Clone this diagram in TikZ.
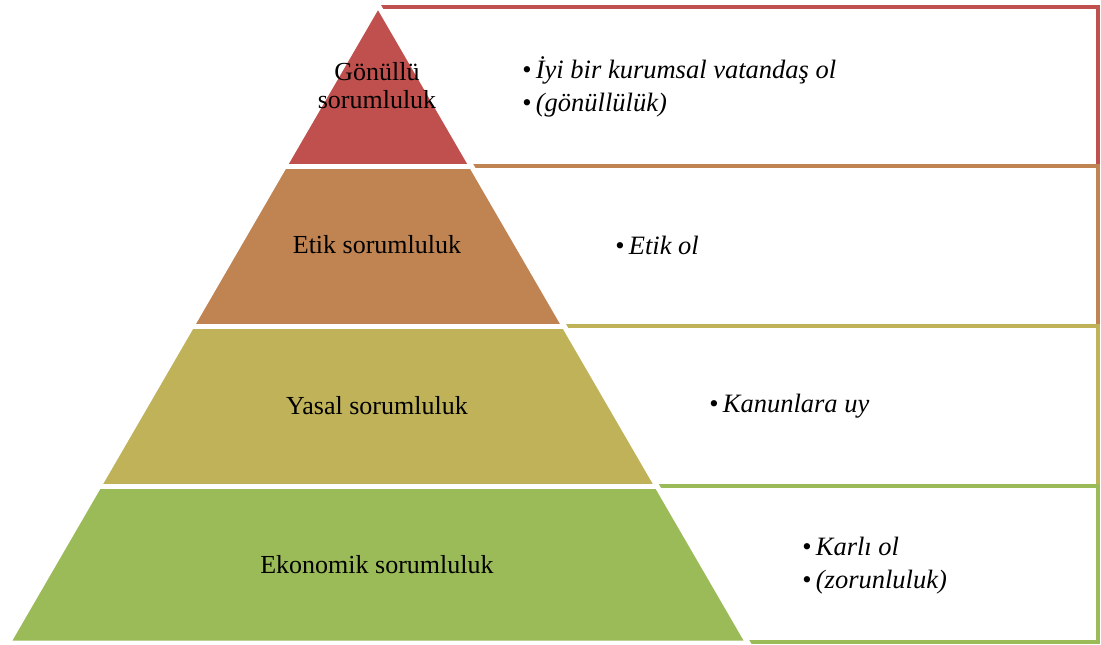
\documentclass[tikz,border=0pt]{standalone}
\usepackage{fontspec}
\setmainfont{Liberation Serif}
\definecolor{cred}{HTML}{C0504D}
\definecolor{cbrown}{HTML}{C08352}
\definecolor{colive}{HTML}{C0B258}
\definecolor{cgreen}{HTML}{9BBB59}
\tikzset{
  listbox/.style={line width=3.5pt},
  layer/.style={draw=white, line width=5pt, line join=miter},
  lvl/.style={font=\fontsize{26}{28}\selectfont, align=center, inner sep=0pt, text=black},
  item/.style={font=\fontsize{26.5}{33}\selectfont\itshape, align=left, anchor=west, inner sep=0pt, text=black}
}
\begin{document}
\begin{tikzpicture}[x=1pt,y=-1pt]
\useasboundingbox (0,0) rectangle (1101,645);
% list boxes
\draw[listbox, draw=cred]   (378,7)   rectangle (1098,166);
\draw[listbox, draw=cbrown] (378,166) rectangle (1098,326);
\draw[listbox, draw=colive] (378,326) rectangle (1098,486);
\draw[listbox, draw=cgreen] (378,486) rectangle (1098,642);
% pyramid layers
\coordinate (apex) at (378,5);
\coordinate (l1) at (284.63,166); \coordinate (r1) at (471.37,166);
\coordinate (l2) at (191.84,326); \coordinate (r2) at (564.16,326);
\coordinate (l3) at (99.05,486);  \coordinate (r3) at (656.95,486);
\coordinate (l4) at (8,643);      \coordinate (r4) at (748,643);
\fill[cred] (apex) -- (r1) -- (l1) -- cycle;
\fill[cbrown] (l1) -- (r1) -- (r2) -- (l2) -- cycle;
\fill[colive] (l2) -- (r2) -- (r3) -- (l3) -- cycle;
\fill[cgreen] (l3) -- (r3) -- (r4) -- (l4) -- cycle;
\draw[layer] (apex) -- (r4) -- (l4) -- cycle;
\draw[layer] (l1) -- (r1);
\draw[layer] (l2) -- (r2);
\draw[layer] (l3) -- (r3);
% labels
\node[lvl] (t1) at (377,86) {Gönüllü\\sorumluluk};
\node[lvl] (t2) at (377,245) {Etik sorumluluk};
\node[lvl] (t3) at (377,406) {Yasal sorumluluk};
\node[lvl] (t4) at (377,565) {Ekonomik sorumluluk};
% list texts
\node[item] (i1) at (522,86.5) {\textbullet\,İyi bir kurumsal vatandaş ol\\\textbullet\,(gönüllülük)};
\node[item] (i2) at (615,245) {\textbullet\,Etik ol};
\node[item] (i3) at (709,406) {\textbullet\,Kanunlara uy};
\node[item] (i4) at (802,565.5) {\textbullet\,Karlı ol\\\textbullet\,(zorunluluk)};
\end{tikzpicture}
\end{document}
